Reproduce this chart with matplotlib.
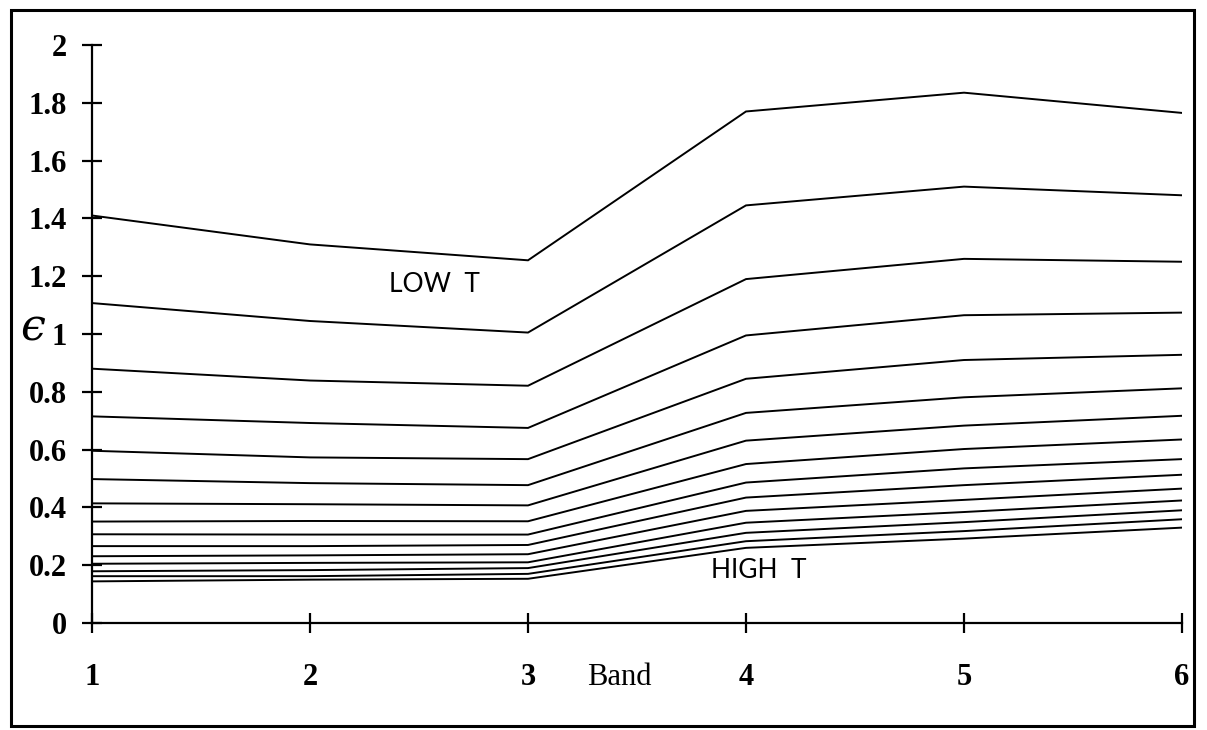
import numpy as np
import matplotlib.pyplot as plt
from matplotlib.patches import Rectangle

# emissivity curves, one value per band, listed from low T (top) to high T (bottom)
bands = [1, 2, 3, 4, 5, 6]
band1 = [1.41, 1.107, 0.88, 0.715, 0.596, 0.498, 0.414, 0.351, 0.307, 0.266, 0.231, 0.205, 0.179, 0.162, 0.144]
band2 = [1.31, 1.045, 0.839, 0.692, 0.573, 0.484, 0.411, 0.353, 0.306, 0.266, 0.234, 0.208, 0.183, 0.162, 0.150]
band3 = [1.255, 1.005, 0.821, 0.675, 0.567, 0.477, 0.407, 0.352, 0.306, 0.270, 0.238, 0.210, 0.190, 0.170, 0.153]
band4 = [1.77, 1.445, 1.19, 0.995, 0.845, 0.727, 0.631, 0.55, 0.486, 0.434, 0.388, 0.347, 0.312, 0.283, 0.26]
band5 = [1.835, 1.51, 1.26, 1.065, 0.91, 0.781, 0.683, 0.602, 0.535, 0.477, 0.426, 0.384, 0.349, 0.318, 0.292]
band6 = [1.765, 1.48, 1.25, 1.074, 0.928, 0.812, 0.717, 0.635, 0.567, 0.513, 0.465, 0.424, 0.39, 0.359, 0.33]

yticks = [0, 0.2, 0.4, 0.6, 0.8, 1, 1.2, 1.4, 1.6, 1.8, 2]
ylabels = ['0', '0.2', '0.4', '0.6', '0.8', '1', '1.2', '1.4', '1.6', '1.8', '2']

eps = np.column_stack([band1, band2, band3, band4, band5, band6])

fig = plt.figure(figsize=(12.07, 7.30), dpi=100)
W, H = 1207, 730
ax = fig.add_axes([92 / W, 107 / H, 1090 / W, 578 / H])

for row in eps:
    ax.plot(bands, row, color='black', lw=1.4, solid_joinstyle='miter')

ax.set_xlim(1, 6)
ax.set_ylim(0, 2)
for s in ['top', 'right']:
    ax.spines[s].set_visible(False)
for s in ['left', 'bottom']:
    ax.spines[s].set_linewidth(1.6)

serif = 'Liberation Serif'
ax.set_xticks(bands)
ax.set_xticklabels([str(b) for b in bands], fontfamily=serif, fontweight='bold', fontsize=22)
ax.set_yticks(yticks)
ax.set_yticklabels(ylabels, fontfamily=serif, fontweight='bold', fontsize=22)
ax.tick_params(axis='x', direction='inout', length=14, width=1.6, pad=22)
ax.tick_params(axis='y', direction='inout', length=14, width=1.6, pad=11)
for t in ax.xaxis.get_major_ticks() + ax.yaxis.get_major_ticks():
    t.tick1line.set_clip_on(False)

ax.text(3.42, -0.19, 'Band', fontfamily=serif, fontsize=22, ha='center', va='center')
ax.text(2.57, 1.17, 'LOW  T', fontfamily='Lato', fontsize=19, ha='center', va='center')
ax.text(4.06, 0.18, 'HIGH  T', fontfamily='Lato', fontsize=19, ha='center', va='center')
fig.text(33 / W, 1 - 328 / H, '\u03f5', fontfamily='DejaVu Serif', fontstyle='italic',
         fontsize=32, ha='center', va='center')

# frame around the whole figure
fig.add_artist(Rectangle((11 / W, 1 - 726 / H), 1183 / W, 716 / H, transform=fig.transFigure,
                         fill=False, lw=2.2, edgecolor='black'))

fig.savefig('out.png', dpi=100)
